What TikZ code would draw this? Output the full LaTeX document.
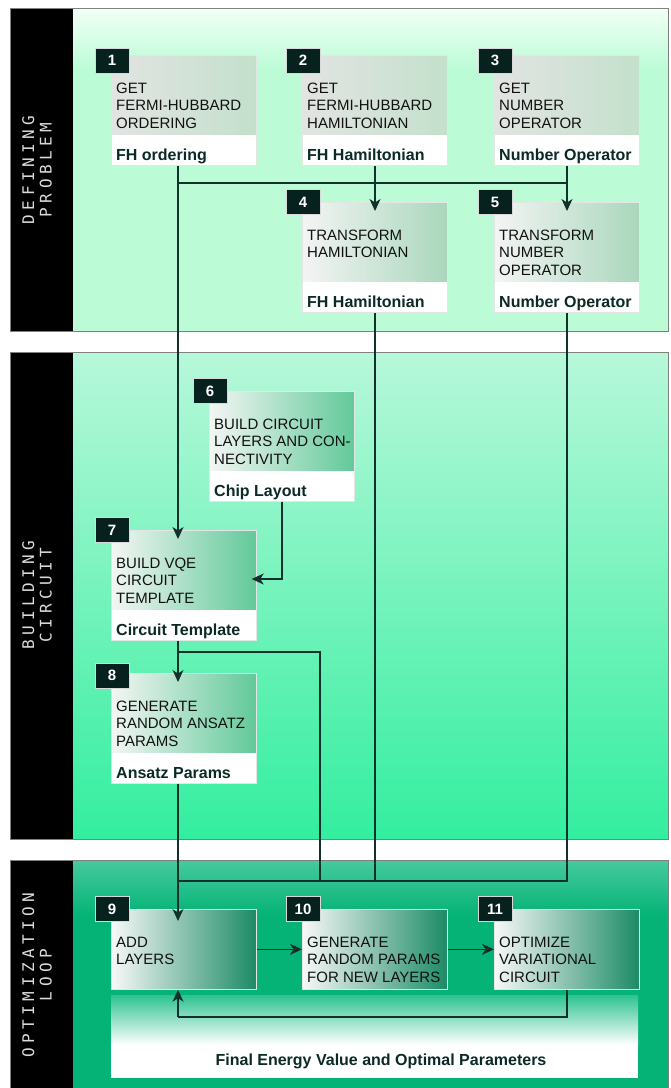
\documentclass[tikz,border=0pt]{standalone}
\usepackage{fontspec}
\setmainfont{Liberation Sans}
\newfontfamily\sidefont[LetterSpace=28]{DejaVu Sans Mono}
\usetikzlibrary{arrows.meta,calc}
\definecolor{pAtop}{HTML}{F2FFF7}
\definecolor{pA}{HTML}{BBFCD6}
\definecolor{pBtop}{HTML}{B7F8DA}
\definecolor{pBbot}{HTML}{33EE9F}
\definecolor{pCtop}{HTML}{46CA9E}
\definecolor{pC}{HTML}{06B377}
\definecolor{tagdark}{HTML}{06211E}
\definecolor{lineclr}{HTML}{12302C}
\definecolor{textclr}{HTML}{111111}
\definecolor{labclr}{HTML}{0B2A26}
\definecolor{outtop}{HTML}{2DC290}
\definecolor{rAl}{HTML}{E2E4E2}\definecolor{rAm}{HTML}{A6BFAD}\definecolor{rAr}{HTML}{C4E0CC}
\definecolor{rBl}{HTML}{F4F4F4}\definecolor{rBm}{HTML}{ABC8B4}\definecolor{rBr}{HTML}{A9D7BC}
\definecolor{rCl}{HTML}{F4F6F4}\definecolor{rCm}{HTML}{8DC6A8}\definecolor{rCr}{HTML}{62C99A}
\definecolor{rDl}{HTML}{F8F8F8}\definecolor{rDm}{HTML}{4E9E84}\definecolor{rDr}{HTML}{1C8B65}
\tikzset{
  panelborder/.style={draw=black!50, line width=0.8pt},
  bodybox/.style={draw=white!80!gray, line width=0.7pt, inner sep=0pt, minimum width=145pt},
  tagbox/.style={fill=tagdark, draw=white!70!gray, line width=0.6pt, minimum width=34pt, minimum height=25pt, inner sep=0pt, text=white, font=\bfseries\fontsize{15}{18}\selectfont},
  boxtext/.style={inner sep=0pt, align=left, text=textclr, font=\fontsize{15}{17.8}\selectfont},
  labtext/.style={inner sep=0pt, text=labclr, font=\bfseries\fontsize{16}{19}\selectfont},
  sidelab/.style={rotate=90, align=center, inner sep=0pt, text=white!86!black, font=\sidefont\fontsize{16}{17.5}\selectfont},
  conn/.style={draw=lineclr, line width=1.4pt},
  arr/.style={conn, -{Stealth[length=12pt,width=11pt,inset=3.5pt]}},
  shA/.style={left color=rAl, middle color=rAm, right color=rAr},
  shB/.style={left color=rBl, middle color=rBm, right color=rBr},
  shC/.style={left color=rCl, middle color=rCm, right color=rCr},
  shD/.style={left color=rDl, middle color=rDm, right color=rDr},
}
% name, x, y, shade, number, tag dy, text, label
\newcommand\labbox[8]{%
  \fill[white] (#2,#3) rectangle ++(145,110);
  \shade[#4] (#2,#3) rectangle ++(145,79);
  \node[bodybox, minimum height=110pt, anchor=north west] (#1) at (#2,#3) {};
  \node[tagbox] (#1n) at ({#2+1},{#3+#6}) {#5};
  \node[boxtext, anchor=north west] (#1t) at ({#2+5},{#3+27.5}) {#7};
  \node[labtext, anchor=base west] (#1l) at ({#2+5},{#3+105}) {#8};
}
% name, x, y, number, text
\newcommand\loopbox[5]{%
  \shade[shD] (#2,#3) rectangle ++(145,80);
  \node[bodybox, minimum height=80pt, anchor=north west] (#1) at (#2,#3) {};
  \node[tagbox] (#1n) at ({#2+1},{#3}) {#4};
  \node[boxtext, anchor=north west] (#1t) at ({#2+5},{#3+27.5}) {#5};
}
\begin{document}
\begin{tikzpicture}[x=1pt,y=-1pt]
\useasboundingbox (0,0) rectangle (670,1088);
\fill[white] (0,0) rectangle (670,1088);
% panel 1
\fill[pA] (73,8) rectangle (668,331);
\shade[top color=pAtop, bottom color=pA] (73,8) rectangle (668,70);
\fill[black] (10,8) rectangle (73,331);
\draw[panelborder] (10,8) rectangle (668,331);
% panel 2
\shade[top color=pBtop, bottom color=pBbot] (73,352) rectangle (668,839);
\fill[black] (10,352) rectangle (73,839);
\draw[panelborder] (10,352) rectangle (668,839);
% panel 3
\fill[pC] (73,860) rectangle (668,1088);
\shade[top color=pCtop, bottom color=pC] (73,860) rectangle (668,915);
\fill[black] (10,860) rectangle (73,1088);
\draw[panelborder] (10,1088) -- (10,860) -- (668,860) -- (668,1088);
% side labels
\node[sidelab] (s1) at (37,170) {DEFINING\\PROBLEM};
\node[sidelab] (s2) at (37,595) {BUILDING\\CIRCUIT};
\node[sidelab] (s3) at (37,975) {OPTIMIZATION\\LOOP};
% output box
\fill[white] (111,995) rectangle (638,1078);
\shade[top color=outtop, bottom color=white] (111,995) rectangle (638,1045);
\node[inner sep=0pt, minimum width=527pt, minimum height=83pt, anchor=north west] (out) at (111,995) {};
\node[labtext, anchor=base] (outt) at (381,1065) {Final Energy Value and Optimal Parameters};
% column coordinates
\coordinate (v1) at (178,0);
\coordinate (v2) at (375,0);
\coordinate (v3) at (567,0);
\coordinate (v6) at (282,0);
\coordinate (j1) at (567,183);
\coordinate (k7) at (0,579);
\coordinate (s7) at (178,652);
\coordinate (q) at (320,881);
\coordinate (m9) at (178,881);
\coordinate (l9) at (178,1017);
% connectors drawn below boxes where they pass
\draw[conn] (178,165) |- (j1);
\draw[conn] (s7) -| (q) -- (m9);
\draw[conn] (375,311) |- (m9);
\draw[conn] (567,311) |- (m9);
\draw[conn] (567,989) |- (l9);
% boxes
\labbox{b1}{111}{55}{shA}{1}{5.5}{GET\\FERMI-HUBBARD\\ORDERING}{FH ordering}
\labbox{b2}{302}{55}{shA}{2}{5.5}{GET\\FERMI-HUBBARD\\HAMILTONIAN}{FH Hamiltonian}
\labbox{b3}{494}{55}{shA}{3}{5.5}{GET\\NUMBER\\OPERATOR}{Number Operator}
\labbox{b4}{302}{202}{shB}{4}{0}{TRANSFORM\\HAMILTONIAN}{FH Hamiltonian}
\labbox{b5}{494}{202}{shB}{5}{0}{TRANSFORM\\NUMBER\\OPERATOR}{Number Operator}
\labbox{b6}{209}{391}{shC}{6}{0}{BUILD CIRCUIT\\LAYERS AND CON-\\NECTIVITY}{Chip Layout}
\labbox{b7}{111}{530}{shC}{7}{0}{BUILD VQE\\CIRCUIT\\TEMPLATE}{Circuit Template}
\labbox{b8}{111}{673}{shC}{8}{2.5}{GENERATE\\RANDOM ANSATZ\\PARAMS}{Ansatz Params}
\loopbox{b9}{111}{909}{9}{ADD\\LAYERS}
\loopbox{b10}{302}{909}{10}{GENERATE\\RANDOM PARAMS\\FOR NEW LAYERS}
\loopbox{b11}{494}{909}{11}{OPTIMIZE\\VARIATIONAL\\CIRCUIT}
% arrows
\draw[arr, shorten >=-9pt] (b1.south -| v1) -- (b7.north -| v1);
\draw[arr, shorten >=-9pt] (b2.south -| v2) -- (b4.north -| v2);
\draw[arr, shorten >=-9pt] (b3.south -| v3) -- (b5.north -| v3);
\draw[arr, shorten >=-5pt] (b6.south -| v6) |- (b7.east |- k7);
\draw[arr, shorten >=-9pt] (b7.south -| v1) -- (b8.north -| v1);
\draw[arr, shorten >=-12pt] (b8.south -| v1) -- (b9.north -| v1);
\draw[arr] (b9) -- (b10);
\draw[arr] (b10) -- (b11);
\draw[arr] (l9) -- (b9.south -| l9);
\end{tikzpicture}
\end{document}
